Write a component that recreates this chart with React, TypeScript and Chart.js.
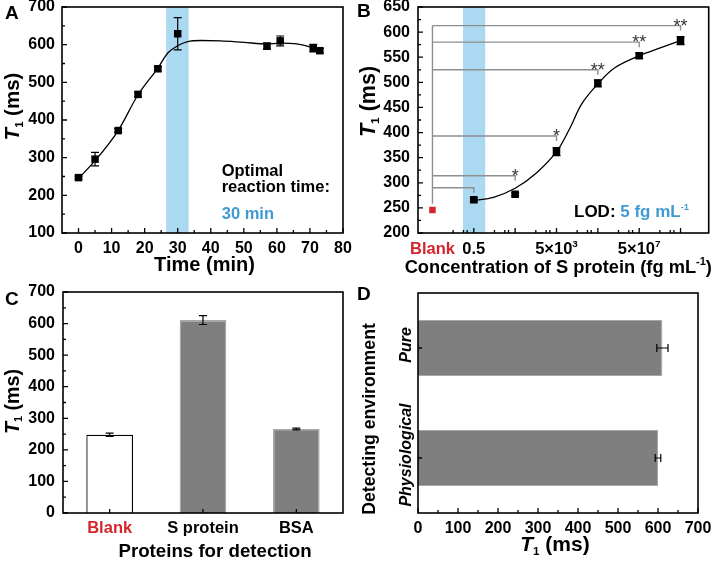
import React, { useEffect, useRef } from 'react';
import { Chart, registerables } from 'chart.js';

Chart.register(...registerables);

const FONT = '"Liberation Sans", Arial, Helvetica, sans-serif';
const RED = '#d4262c';
const BLUE = '#3f9bd2';
const BAND = '#acd9f2';
const BAR_GRAY = '#7f7f7f';
const BAR_EDGE = '#a8a8a8';
const LINE_GRAY = '#8e8e8e';

// ---------- Panel A : T1 vs reaction time ----------
const timeMin = [0, 5, 12, 18, 24, 30, 57, 61, 71, 73];
const t1VsTime = [247, 296, 372, 468, 536, 629, 596, 610, 591, 584];
const t1VsTimeErr = [4, 18, 5, 7, 5, 43, 8, 13, 10, 6];
const fitTimeX = [0, 5, 12, 18, 24, 27, 30, 33, 37, 43, 50, 57, 61, 66, 70, 73];
const fitTimeY = [245, 292, 372, 467, 538, 578, 597, 608, 611, 610, 606, 602, 604, 602, 594, 583];
const optimalBand = [26.5, 33.3];
const timeTicks = [0, 10, 20, 30, 40, 50, 60, 70, 80];
const timeMinor = [5, 15, 25, 35, 45, 55, 65, 75];
const t1TicksA = [100, 200, 300, 400, 500, 600, 700];
const t1MinorA = [150, 250, 350, 450, 550, 650];

// ---------- Panel B : T1 vs S protein concentration ----------
const blankConc = 0.005;
const blankT1 = 246;
const sConc = [0.5, 50, 5e3, 5e5, 5e7, 5e9];
const t1VsConc = [266, 277, 362, 498, 553, 583];
const t1VsConcErr = [4, 3, 8, 7, 5, 8];
const fitConcX = [0.5, 4.5, 50, 516, 5e3, 2e4, 8.6e4, 5e5, 3.3e6, 5e7, 5.6e8, 5e9];
const fitConcY = [265, 271, 289, 319, 362, 405, 458, 497, 529, 553, 569, 583];
const sigLevels = [290, 314, 393, 525, 580, 613];
const sigMarks = ['', '*', '*', '**', '**', '**'];
const lodBand = [0.15, 1.78];
const concTickValues = [0.005, 0.5, 5e3, 5e7];
const concTickBase = ['Blank', '0.5', '5×10', '5×10'];
const concTickSup = ['', '', '3', '7'];
const concMinorFactors = [0.1, 0.316, 0.476];
const t1TicksB = [200, 250, 300, 350, 400, 450, 500, 550, 600, 650];
const t1MinorB = [225, 275, 325, 375, 425, 475, 525, 575, 625];

// ---------- Panel C : selectivity ----------
const proteins = ['Blank', 'S protein', 'BSA'];
const t1Proteins = [248, 611, 266];
const t1ProteinsErr = [5, 14, 3];
const t1TicksC = [0, 100, 200, 300, 400, 500, 600, 700];
const t1MinorC = [50, 150, 250, 350, 450, 550, 650];

// ---------- Panel D : detecting environment ----------
const envs = ['Pure', 'Physiological'];
const t1Envs = [611, 600];
const t1EnvsErr = [14, 7];
const t1TicksD = [0, 100, 200, 300, 400, 500, 600, 700];
const t1MinorD = [50, 150, 250, 350, 450, 550, 650];

type Seg = { t: string; italic?: boolean; k?: number; dy?: number; color?: string; weight?: string };

function drawSegs(
  ctx: CanvasRenderingContext2D,
  segs: Seg[],
  x: number,
  y: number,
  size: number,
  opts: { rotate?: boolean; align?: 'left' | 'center' | 'right'; baseline?: boolean; color?: string } = {}
) {
  ctx.save();
  ctx.translate(x, y);
  if (opts.rotate) ctx.rotate(-Math.PI / 2);
  ctx.textAlign = 'left';
  ctx.textBaseline = 'alphabetic';
  const fonts = segs.map(
    (s) => `${s.italic ? 'italic ' : ''}${s.weight ?? 'bold'} ${(size * (s.k ?? 1)).toFixed(2)}px ${FONT}`
  );
  const widths = segs.map((s, i) => {
    ctx.font = fonts[i];
    return ctx.measureText(s.t).width;
  });
  const total = widths.reduce((a, b) => a + b, 0);
  let cx = opts.align === 'left' ? 0 : opts.align === 'right' ? -total : -total / 2;
  const base = opts.baseline ? 0 : size * 0.36;
  segs.forEach((s, i) => {
    ctx.font = fonts[i];
    ctx.fillStyle = s.color ?? opts.color ?? '#000';
    ctx.fillText(s.t, cx, base + (s.dy ?? 0) * size);
    cx += widths[i];
  });
  ctx.restore();
}

const T1_SEGS: Seg[] = [{ t: 'T', italic: true }, { t: '1', k: 0.55, dy: 0.18 }, { t: ' (ms)' }];

type TickSpec = { major: number[]; minor: number[] };
type ErrSpec = { ds: number; err: number[]; horizontal?: boolean; cap: number };
type Decor = {
  band?: number[];
  xTicks?: TickSpec;
  yTicks?: TickSpec;
  xCat?: number;
  yCat?: number;
  errors?: ErrSpec[];
  before?: (chart: any) => void;
  after?: (chart: any) => void;
};

function makeDecor(d: Decor) {
  return {
    id: 'decor',
    beforeDatasetsDraw(chart: any) {
      const { ctx, chartArea: a, scales } = chart;
      if (d.band) {
        const x0 = scales.x.getPixelForValue(d.band[0]);
        const x1 = scales.x.getPixelForValue(d.band[1]);
        ctx.save();
        ctx.fillStyle = BAND;
        ctx.fillRect(x0, a.top, x1 - x0, a.bottom - a.top);
        ctx.restore();
      }
      if (d.before) d.before(chart);
    },
    afterDatasetsDraw(chart: any) {
      const { ctx, chartArea: a, scales } = chart;
      ctx.save();
      (d.errors || []).forEach((e) => {
        const meta = chart.getDatasetMeta(e.ds);
        const ds = chart.data.datasets[e.ds];
        ctx.strokeStyle = '#000';
        ctx.lineWidth = 1.2;
        meta.data.forEach((el: any, i: number) => {
          const raw = ds.data[i];
          const v = typeof raw === 'number' ? raw : raw.y;
          const err = e.err[i];
          ctx.beginPath();
          if (e.horizontal) {
            const xl = scales.x.getPixelForValue(v - err);
            const xr = scales.x.getPixelForValue(v + err);
            const y = el.y;
            ctx.moveTo(xl, y);
            ctx.lineTo(xr, y);
            ctx.moveTo(xl, y - e.cap);
            ctx.lineTo(xl, y + e.cap);
            ctx.moveTo(xr, y - e.cap);
            ctx.lineTo(xr, y + e.cap);
          } else {
            const yt = scales.y.getPixelForValue(v + err);
            const yb = scales.y.getPixelForValue(v - err);
            const x = el.x;
            ctx.moveTo(x, yt);
            ctx.lineTo(x, yb);
            ctx.moveTo(x - e.cap, yt);
            ctx.lineTo(x + e.cap, yt);
            ctx.moveTo(x - e.cap, yb);
            ctx.lineTo(x + e.cap, yb);
          }
          ctx.stroke();
        });
      });
      ctx.strokeStyle = '#000';
      ctx.lineWidth = 1.3;
      ctx.beginPath();
      const xt = (vals: number[], len: number) =>
        vals.forEach((v) => {
          const p = scales.x.getPixelForValue(v);
          ctx.moveTo(p, a.bottom);
          ctx.lineTo(p, a.bottom - len);
        });
      const yt = (vals: number[], len: number) =>
        vals.forEach((v) => {
          const p = scales.y.getPixelForValue(v);
          ctx.moveTo(a.left, p);
          ctx.lineTo(a.left + len, p);
        });
      if (d.xTicks) {
        xt(d.xTicks.major, 5);
        xt(d.xTicks.minor, 3);
      }
      if (d.yTicks) {
        yt(d.yTicks.major, 5);
        yt(d.yTicks.minor, 3);
      }
      if (d.xCat) xt(Array.from({ length: d.xCat }, (_, i) => i), 4);
      if (d.yCat) yt(Array.from({ length: d.yCat }, (_, i) => i), 4);
      ctx.stroke();
      ctx.lineWidth = 1.6;
      ctx.strokeRect(a.left, a.top, a.right - a.left, a.bottom - a.top);
      ctx.restore();
      if (d.after) d.after(chart);
    },
  };
}

function linAxis(min: number, max: number, ticks: number[], axis: 'x' | 'y', size: number, padding: number, showLabels = true) {
  return {
    type: 'linear',
    min,
    max,
    grid: { display: false, drawTicks: false },
    border: { display: false },
    afterBuildTicks: (s: any) => {
      s.ticks = ticks.map((v) => ({ value: v }));
    },
    ticks: {
      display: showLabels,
      font: { family: FONT, size: 16, weight: 'bold' },
      color: '#000',
      padding,
      autoSkip: false,
      maxRotation: 0,
      minRotation: 0,
    },
    afterFit: (s: any) => {
      if (axis === 'x') {
        s.height = size;
        s.paddingLeft = 0;
        s.paddingRight = 0;
      } else {
        s.width = size;
        s.paddingTop = 0;
        s.paddingBottom = 0;
      }
    },
  };
}

const baseOptions = (padTop: number, padRight: number) => ({
  animation: false,
  responsive: false,
  devicePixelRatio: 1,
  events: [],
  layout: { padding: { top: padTop, right: padRight, left: 0, bottom: 0 } },
  plugins: { legend: { display: false }, tooltip: { enabled: false } },
});

function letter(ctx: CanvasRenderingContext2D, t: string, x: number, y: number) {
  drawSegs(ctx, [{ t }], x, y, 19, { align: 'left', baseline: true });
}

function configA(): any {
  return {
    type: 'scatter',
    data: {
      datasets: [
        {
          data: timeMin.map((x, i) => ({ x, y: t1VsTime[i] })),
          pointStyle: 'rect',
          pointRadius: 5.3,
          backgroundColor: '#000',
          borderColor: '#000',
          borderWidth: 0,
        },
        {
          data: fitTimeX.map((x, i) => ({ x, y: fitTimeY[i] })),
          showLine: true,
          pointRadius: 0,
          borderColor: '#000',
          borderWidth: 1.3,
          cubicInterpolationMode: 'monotone',
          fill: false,
        },
      ],
    },
    options: {
      ...baseOptions(7, 14),
      scales: {
        x: linAxis(-5, 80, timeTicks, 'x', 47, 6),
        y: linAxis(100, 700, t1TicksA, 'y', 62, 7),
      },
    },
    plugins: [
      makeDecor({
        band: optimalBand,
        xTicks: { major: timeTicks, minor: timeMinor },
        yTicks: { major: t1TicksA, minor: t1MinorA },
        errors: [{ ds: 0, err: t1VsTimeErr, cap: 4 }],
        after: (chart) => {
          const ctx = chart.ctx;
          drawSegs(ctx, [{ t: 'Time (min)' }], 204.5, 263.7, 20);
          drawSegs(ctx, T1_SEGS, 11.5, 106.5, 20.5, { rotate: true });
          drawSegs(ctx, [{ t: 'Optimal' }], 221.7, 175.7, 16.5, { align: 'left', baseline: true });
          drawSegs(ctx, [{ t: 'reaction time:' }], 221.7, 191.7, 16.5, { align: 'left', baseline: true });
          drawSegs(ctx, [{ t: '30 min', color: BLUE }], 221.7, 219.3, 16.5, { align: 'left', baseline: true });
          letter(ctx, 'A', 5, 18.5);
        },
      }),
    ],
  };
}

function configB(): any {
  const minor: number[] = [];
  sConc.forEach((m) => concMinorFactors.forEach((f) => minor.push(m * f)));
  return {
    type: 'scatter',
    data: {
      datasets: [
        {
          data: sConc.map((x, i) => ({ x, y: t1VsConc[i] })),
          pointStyle: 'rect',
          pointRadius: 5.3,
          backgroundColor: '#000',
          borderColor: '#000',
          borderWidth: 0,
        },
        {
          data: [{ x: blankConc, y: blankT1 }],
          pointStyle: 'rect',
          pointRadius: 4.6,
          backgroundColor: RED,
          borderColor: RED,
          borderWidth: 0,
        },
        {
          data: fitConcX.map((x, i) => ({ x, y: fitConcY[i] })),
          showLine: true,
          pointRadius: 0,
          borderColor: '#000',
          borderWidth: 1.3,
          tension: 0.35,
          fill: false,
        },
      ],
    },
    options: {
      ...baseOptions(7, 1),
      scales: {
        x: {
          type: 'logarithmic',
          min: 1e-3,
          max: 1.15e11,
          grid: { display: false, drawTicks: false },
          border: { display: false },
          afterBuildTicks: (s: any) => {
            s.ticks = concTickValues.map((v) => ({ value: v }));
          },
          ticks: { display: false },
          afterFit: (s: any) => {
            s.height = 47;
            s.paddingLeft = 0;
            s.paddingRight = 0;
          },
        },
        y: linAxis(200, 650, t1TicksB, 'y', 61, 8),
      },
    },
    plugins: [
      makeDecor({
        band: lodBand,
        xTicks: { major: sConc, minor },
        yTicks: { major: t1TicksB, minor: t1MinorB },
        errors: [{ ds: 0, err: t1VsConcErr, cap: 4 }],
        before: (chart) => {
          const { ctx, scales } = chart;
          const xs = scales.x;
          const ys = scales.y;
          const xb = xs.getPixelForValue(blankConc);
          ctx.save();
          ctx.strokeStyle = LINE_GRAY;
          ctx.lineWidth = 1.4;
          ctx.beginPath();
          ctx.moveTo(xb, ys.getPixelForValue(Math.max(...sigLevels)));
          ctx.lineTo(xb, ys.getPixelForValue(blankT1 + 12));
          sigLevels.forEach((lv, i) => {
            const xe = xs.getPixelForValue(sConc[i]);
            const yl = ys.getPixelForValue(lv);
            ctx.moveTo(xb, yl);
            ctx.lineTo(xe, yl);
            ctx.lineTo(xe, yl + 5);
          });
          ctx.stroke();
          ctx.fillStyle = '#333';
          ctx.font = `18px ${FONT}`;
          ctx.textAlign = 'center';
          ctx.textBaseline = 'alphabetic';
          sigLevels.forEach((lv, i) => {
            if (!sigMarks[i]) return;
            const xe = xs.getPixelForValue(sConc[i]);
            const yl = ys.getPixelForValue(lv);
            ctx.fillText(sigMarks[i], xe, yl + 6);
          });
          ctx.restore();
        },
        after: (chart) => {
          const { ctx, scales } = chart;
          concTickValues.forEach((v, i) => {
            const px = scales.x.getPixelForValue(v);
            const segs: Seg[] = [{ t: concTickBase[i], color: i === 0 ? RED : '#000' }];
            if (concTickSup[i]) segs.push({ t: concTickSup[i], k: 0.6, dy: -0.42 });
            drawSegs(ctx, segs, px, 248.3, 16.5);
          });
          drawSegs(
            ctx,
            [{ t: 'Concentration of S protein (fg mL' }, { t: '-1', k: 0.6, dy: -0.4 }, { t: ')' }],
            201.3,
            266,
            18.3
          );
          drawSegs(ctx, T1_SEGS, 10, 101.5, 21.5, { rotate: true });
          drawSegs(
            ctx,
            [{ t: 'LOD: ' }, { t: '5 fg mL', color: BLUE }, { t: '-1', k: 0.55, dy: -0.42, color: BLUE }],
            217,
            216.7,
            17,
            { align: 'left', baseline: true }
          );
          letter(ctx, 'B', 0, 16.7);
        },
      }),
    ],
  };
}

function configC(): any {
  return {
    type: 'bar',
    data: {
      labels: proteins,
      datasets: [
        {
          data: t1Proteins,
          backgroundColor: ['#ffffff', BAR_GRAY, BAR_GRAY],
          borderColor: ['#000000', BAR_EDGE, BAR_EDGE],
          borderWidth: 1.3,
          barPercentage: 0.5,
          categoryPercentage: 1,
        },
      ],
    },
    options: {
      ...baseOptions(12, 14),
      scales: {
        x: {
          type: 'category',
          grid: { display: false, drawTicks: false },
          border: { display: false },
          ticks: {
            font: { family: FONT, size: 16.5, weight: 'bold' },
            color: (c: any) => (c.index === 0 ? RED : '#000'),
            padding: 6,
            autoSkip: false,
            maxRotation: 0,
            minRotation: 0,
          },
          afterFit: (s: any) => {
            s.height = 50;
            s.paddingLeft = 0;
            s.paddingRight = 0;
          },
        },
        y: linAxis(0, 700, t1TicksC, 'y', 63, 8),
      },
    },
    plugins: [
      makeDecor({
        xCat: proteins.length,
        yTicks: { major: t1TicksC, minor: t1MinorC },
        errors: [{ ds: 0, err: t1ProteinsErr, cap: 4 }],
        after: (chart) => {
          const ctx = chart.ctx;
          drawSegs(ctx, [{ t: 'Proteins for detection' }], 215, 270, 18.7);
          drawSegs(ctx, T1_SEGS, 11.7, 121.5, 19.7, { rotate: true });
          letter(ctx, 'C', 5, 24.7);
        },
      }),
    ],
  };
}

function configD(): any {
  return {
    type: 'bar',
    data: {
      labels: envs,
      datasets: [
        {
          data: t1Envs,
          backgroundColor: BAR_GRAY,
          borderColor: BAR_EDGE,
          borderWidth: 1,
          barPercentage: 0.51,
          categoryPercentage: 1,
        },
      ],
    },
    options: {
      ...baseOptions(13, 16),
      indexAxis: 'y',
      scales: {
        x: linAxis(0, 700, t1TicksD, 'x', 50, 6),
        y: {
          type: 'category',
          grid: { display: false, drawTicks: false },
          border: { display: false },
          ticks: { display: false },
          afterFit: (s: any) => {
            s.width = 61;
            s.paddingTop = 0;
            s.paddingBottom = 0;
          },
        },
      },
    },
    plugins: [
      makeDecor({
        yCat: envs.length,
        xTicks: { major: t1TicksD, minor: t1MinorD },
        errors: [{ ds: 0, err: t1EnvsErr, horizontal: true, cap: 4 }],
        after: (chart) => {
          const { ctx, scales } = chart;
          envs.forEach((lab, i) => {
            const py = scales.y.getPixelForValue(i) - 3;
            drawSegs(ctx, [{ t: lab, italic: true }], 53.5, py, 16, { rotate: true, baseline: true });
          });
          drawSegs(ctx, T1_SEGS, 198, 263.7, 21, {});
          drawSegs(ctx, [{ t: 'Detecting environment' }], 11.3, 139, 17.7, { rotate: true });
          letter(ctx, 'D', 0, 20);
        },
      }),
    ],
  };
}

function Panel({ make, left, top, width, height }: { make: () => any; left: number; top: number; width: number; height: number }) {
  const ref = useRef<HTMLCanvasElement>(null);
  useEffect(() => {
    const chart = new Chart(ref.current as HTMLCanvasElement, make());
    return () => chart.destroy();
  }, []);
  return (
    <canvas
      ref={ref}
      width={width}
      height={height}
      style={{ position: 'absolute', left, top, width, height, display: 'block' }}
    />
  );
}

export default function App() {
  return (
    <div style={{ position: 'fixed', left: 0, top: 0, width: 714, height: 563, background: '#fff', overflow: 'hidden' }}>
      <Panel make={configA} left={0} top={0} width={357} height={280} />
      <Panel make={configB} left={357} top={0} width={357} height={280} />
      <Panel make={configC} left={0} top={280} width={357} height={283} />
      <Panel make={configD} left={357} top={280} width={357} height={283} />
    </div>
  );
}
